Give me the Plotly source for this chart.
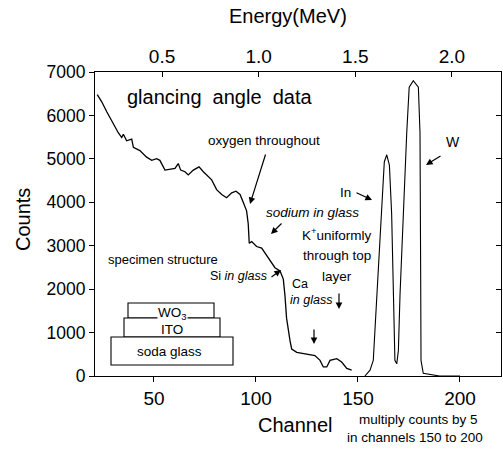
import plotly.graph_objects as go

# ---- data ----
ch_main = [22.2, 24.4, 26.8, 29.3, 30.9, 32.5, 34.2, 35.0, 36.6, 39.1, 39.9, 43.1, 46.4, 48.9,
           51.3, 52.9, 55.4, 57.8, 60.3, 61.9, 63.1, 65.2, 66.8, 69.3, 71.7, 72.1, 74.2, 76.6,
           78.3, 80.7, 83.2, 85.6, 88.1, 90.2, 92.2, 93.8, 95.4, 96.2, 96.7, 97.9, 100.3, 102.8,
           104.4, 106.9, 109.3, 111.8, 113.4, 114.2, 115.0, 116.7, 117.5, 120.0, 124.9, 128.9,
           131.4, 133.0, 134.7, 136.3, 139.6, 142.0, 144.5, 146.9]
counts_main = [6480, 6314, 6090, 5865, 5714, 5602, 5490, 5566, 5415, 5453, 5265, 5190, 5040, 4966,
               5004, 4966, 4741, 4757, 4779, 4892, 4741, 4703, 4629, 4741, 4802, 4815, 4703, 4591,
               4516, 4292, 4179, 4105, 4218, 4254, 4179, 3993, 3804, 3505, 3056, 3094, 2982, 2944,
               2831, 2645, 2494, 2420, 2231, 1858, 1332, 809, 622, 546, 510, 472,
               360, 209, 209, 360, 398, 321, 173, 135]

ch_x5 = [153.4, 155.9, 157.5, 159.2, 160.8, 162.1, 162.9, 164.1, 165.4, 166.5, 167.3, 168.1,
         169.0, 169.8, 170.6, 172.2, 173.9, 175.1, 177.1, 179.6, 180.4, 180.7, 180.9, 182.0,
         190.0, 200.0]
counts_x5 = [0, 135, 360, 1865, 3355, 4478, 4928, 5094, 4854, 3730, 1865, 360,
             280, 584, 1865, 3730, 5602, 6651, 6802, 6651, 5602, 2607, 360, 61,
             0, 0]

channel_ticks = [50, 100, 150, 200]
energy_ticks = [0.5, 1.0, 1.5, 2.0]
energy_labels = ["0.5", "1.0", "1.5", "2.0"]
count_ticks = [0, 1000, 2000, 3000, 4000, 5000, 6000, 7000]
count_labels = ["0", "1000", "2000", "3000", "4000", "5000", "6000", "7000"]

FONT = "Liberation Sans, Arial, Helvetica, sans-serif"
W, H = 503, 449
L, R, T, B = 95, 2, 72, 73
PW, PH = W - L - R, H - T - B


def P(px, py):
    return (px - L) / PW, (H - B - py) / PH


fig = go.Figure()
fig.add_trace(go.Scatter(x=ch_main, y=counts_main, mode="lines",
                         line=dict(color="black", width=1.3), showlegend=False, hoverinfo="skip"))
fig.add_trace(go.Scatter(x=ch_x5, y=counts_x5, mode="lines",
                         line=dict(color="black", width=1.1), showlegend=False, hoverinfo="skip"))
# helper traces so the top and right axes are drawn
fig.add_trace(go.Scatter(x=[1.0], y=[0], xaxis="x2", yaxis="y", mode="markers",
                         marker=dict(opacity=0), showlegend=False, hoverinfo="skip"))
fig.add_trace(go.Scatter(x=[100], y=[0], xaxis="x", yaxis="y2", mode="markers",
                         marker=dict(opacity=0), showlegend=False, hoverinfo="skip"))

axis_common = dict(showgrid=False, zeroline=False, showline=True, linecolor="black",
                   linewidth=1.2, tickcolor="black", tickwidth=1.2)
xfont = dict(family=FONT, size=19, color="black")
yfont = dict(family=FONT, size=17.5, color="black")

fig.update_layout(
    width=W, height=H,
    margin=dict(l=L, r=R, t=T, b=B),
    paper_bgcolor="white", plot_bgcolor="white",
    font=dict(family=FONT, color="black"),
    xaxis=dict(range=[21.1, 220.1], tickvals=channel_ticks, ticks="outside", ticklen=5,
               tickfont=xfont, **axis_common),
    xaxis2=dict(range=[0.153, 2.254], overlaying="x", side="top", anchor="y",
                tickvals=energy_ticks, ticktext=energy_labels, ticks="inside", ticklen=5,
                tickfont=xfont, **axis_common),
    yaxis=dict(range=[0, 7000], tickvals=count_ticks, ticktext=count_labels,
               ticks="outside", ticklen=5, tickfont=yfont, **axis_common),
    yaxis2=dict(range=[0, 7000], overlaying="y", side="right", anchor="x",
                tickvals=count_ticks, ticks="inside", ticklen=5, showticklabels=False,
                tickfont=yfont, **axis_common),
)

annots = []


def text(s, px, py, size=13, italic=False, bg=None, angle=0):
    x, y = P(px, py)
    if italic:
        s = "<i>" + s + "</i>"
    d = dict(text=s, x=x, y=y, xref="paper", yref="paper", showarrow=False,
             xanchor="center", yanchor="middle", textangle=angle,
             font=dict(family=FONT, size=size, color="black"))
    if bg:
        d["bgcolor"] = bg
        d["borderpad"] = 0
    annots.append(d)


def arrow(hx, hy, tx, ty):
    x, y = P(hx, hy)
    annots.append(dict(text="", x=x, y=y, xref="paper", yref="paper", showarrow=True,
                       ax=tx - hx, ay=ty - hy, arrowhead=2, arrowsize=1.1, arrowwidth=1.2,
                       arrowcolor="black", standoff=0))


text("Energy(MeV)", 288, 16, size=20)
text("Channel", 295, 425, size=20)
text("Counts", 23, 220, size=20, angle=-90)
text("glancing  angle  data", 219, 97, size=20)
text("oxygen throughout", 264, 140, size=13.5)
text("sodium in glass", 312, 212, size=13.5, italic=True)
text("K<sup>+</sup>uniformly", 337, 234, size=13.5)
text("through top", 337, 255, size=13.5)
text("layer", 337, 276, size=13.5)
text("Si <i>in glass</i>", 238, 276, size=12.5)
text("Ca", 300, 284, size=12.5)
text("in glass", 311, 300, size=12.5, italic=True)
text("specimen structure", 163, 259, size=13)
text("In", 345, 192, size=13.5)
text("W", 453, 142, size=14)
text("multiply counts by 5", 418, 419, size=13.5)
text("in channels 150 to 200", 415, 437, size=13.5)

arrow(250, 204, 266, 153)
arrow(271, 234, 283, 222)
arrow(281, 270, 270, 278)
arrow(339, 309, 339, 292)
arrow(314, 344, 314, 328)
arrow(372, 200, 355, 192)
arrow(426, 165, 442, 155)

# specimen structure boxes
shapes = []
for x0, y0, x1, y1 in [(128, 303, 214, 318), (124, 318, 220, 337), (111, 337, 233, 365)]:
    a0, b0 = P(x0, y1)
    a1, b1 = P(x1, y0)
    shapes.append(dict(type="rect", xref="paper", yref="paper", x0=a0, y0=b0, x1=a1, y1=b1,
                       line=dict(color="black", width=1.1), fillcolor="white", layer="above"))
fig.update_layout(shapes=shapes)

text("WO<sub>3</sub>", 172, 313, size=13.5, bg="white")
text("ITO", 172, 329, size=13.5)
text("soda glass", 169, 351, size=13.5)

fig.update_layout(annotations=annots)
fig.write_html("out.html")
